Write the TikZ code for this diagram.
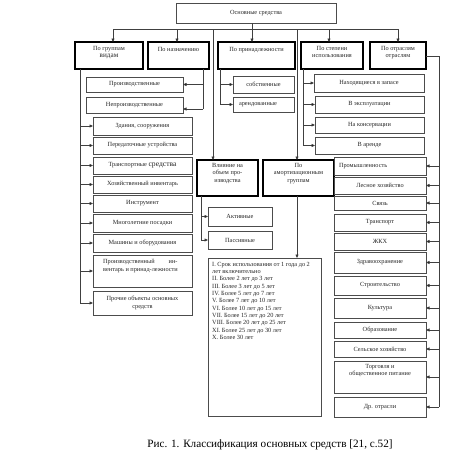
\documentclass[tikz,border=0pt]{standalone}
\usepackage{fontspec}
\setmainfont{Liberation Serif}
\usetikzlibrary{arrows.meta,calc}
\newcommand\bxfont{\fontsize{6.3}{7.6}\selectfont}
\newcommand\bx[7][thinbox]{%
 \pgfmathsetmacro\bxcx{(#3+#5)/2}%
 \pgfmathsetmacro\bxcy{(#4+#6)/2}%
 \pgfmathsetmacro\bxw{#5-#3}%
 \pgfmathsetmacro\bxh{#6-#4}%
 \node[#1,minimum width=\bxw pt,minimum height=\bxh pt] (#2) at (\bxcx,\bxcy) {#7};}
\begin{document}
\begin{tikzpicture}[x=1pt,y=-1pt,
 thinbox/.style={draw=black!70,line width=0.6pt,inner sep=0pt,outer sep=0pt,font=\bxfont,text=black!85,align=center},
 thickbox/.style={draw=black,line width=1.4pt,inner sep=0pt,outer sep=0pt},
 tx/.style={font=\bxfont,text=black!85,align=center,inner sep=0pt},
 ln/.style={draw=black!75,line width=0.6pt},
 arr/.style={ln,-{Triangle[length=3.5pt,width=3pt,fill=black]}},
]
\useasboundingbox[fill=white] (0,0) rectangle (474,458);
% top
\bx{top}{176}{3}{336}{23}{Основные средства}
% level 2
\bx[thickbox]{grp}{75}{42}{143}{69}{}
\bx[thickbox]{naz}{148}{42}{209}{69}{}
\bx[thickbox]{pri}{218}{42}{295}{69}{}
\bx[thickbox]{ste}{301}{42}{363}{69}{}
\bx[thickbox]{otr}{370}{42}{426}{69}{}
\node[tx,anchor=north] (grp-t) at ($(grp.north)+(0,4)$) {По группам\\{\fontsize{7.2}{7.6}\selectfont видам}};
\node[tx,anchor=north] (naz-t) at ($(naz.north)+(0,5)$) {По назначению};
\node[tx,anchor=north] (pri-t) at ($(pri.north)+(0,5)$) {По принадлежности};
\node[tx,anchor=north] (ste-t) at ($(ste.north)+(0,4)$) {По степени\\использования};
\node[tx,anchor=north] (otr-t) at ($(otr.north)+(0,4)$) {По отраслям\\отраслям};
% left column
\bx{prd}{86}{77}{183}{92}{Производственные}
\bx{nep}{86}{97}{183}{113}{Непроизводственные}
\bx{zda}{93}{117}{192}{135}{Здания, сооружения}
\bx{per}{93}{137}{192}{154}{Передаточные устройства}
\bx{trs}{93}{157}{192}{174}{Транспортные {\fontsize{7.6}{8}\selectfont средства}}
\bx{hoz}{93}{176}{192}{193}{Хозяйственный инвентарь}
\bx{ins}{93}{195}{192}{212}{Инструмент}
\bx{mno}{93}{214}{192}{232}{Многолетние посадки}
\bx{mas}{93}{234}{192}{252}{Машины и оборудования}
\bx{pin}{93}{255}{192}{287}{}
\node[tx,anchor=north west,align=left] (pin-t) at ($(pin.north west)+(10,4)$) {Производственный\hspace{14pt}ин-\\вентарь и принад-лежности};
\bx{pro}{93}{291}{192}{315}{Прочие объекты основных\\средств}
% middle
\bx{sob}{233}{76}{294}{93}{собственные}
\bx[thinbox,text width=49pt,align=left]{are}{233}{97}{294}{112}{арендованные}
\bx[thickbox]{vli}{197}{160}{258}{196}{}
\bx[thickbox]{amo}{263}{160}{334}{196}{}
\node[tx,anchor=north] (vli-t) at ($(vli.north)+(0,3)$) {Влияние на\\объем про-\\изводства};
\node[tx,anchor=north] (amo-t) at ($(amo.north)+(0,3)$) {По\\амортизационным\\группам};
\bx{akt}{208}{207}{272}{226}{Активные}
\bx{pas}{208}{231}{272}{249}{Пассивные}
\bx{lst}{208}{258}{321}{416}{}
\node[tx,anchor=north west,align=left,font=\fontsize{6.3}{7.3}\selectfont] (lst-t) at ($(lst.north west)+(4,4)$) {I. Срок использования от 1 года до 2\\лет включительно\\II. Более 2 лет до 3 лет\\III. Более 3 лет до 5 лет\\IV. Более 5 лет до 7 лет\\V. Более 7 лет до 10 лет\\VI. Более 10 лет до 15 лет\\VII. Более 15 лет до 20 лет\\VIII. Более 20 лет до 25 лет\\XI. Более 25 лет до 30 лет\\X. Более 30 лет};
% right: usage
\bx{zap}{314}{74}{424}{92}{Находящиеся в запасе}
\bx{ekp}{315}{96}{424}{113}{В эксплуатации}
\bx{kon}{315}{117}{424}{133}{На консервации}
\bx{ard}{315}{137}{424}{154}{В аренде}
% right: industries
\bx[thinbox,text width=82pt,align=left]{prm}{334}{157}{426}{175}{Промышленность}
\bx{les}{334}{177}{426}{194}{Лесное хозяйство}
\bx{svz}{334}{196}{426}{210}{Связь}
\bx{trn}{334}{214}{426}{231}{Транспорт}
\bx{zkh}{334}{233}{426}{250}{ЖКХ}
\bx{zdr}{334}{252}{426}{273}{Здравоохранение}
\bx{str}{334}{276}{426}{295}{Строительство}
\bx{kul}{334}{298}{426}{318}{Культура}
\bx{obr}{334}{322}{426}{338}{Образование}
\bx{sel}{334}{341}{426}{357}{Сельское хозяйство}
\bx{trg}{334}{361}{426}{393}{}
\node[tx,anchor=north] (trg-t) at ($(trg.north)+(0,3)$) {Торговля и\\общественное питание};
\bx{dro}{334}{397}{426}{417}{Др. отрасли}
% caption
\node[inner sep=0pt,font=\fontsize{11.2}{13}\selectfont] (cap) at (270,445) {Рис. 1. Классификация основных средств [21, с.52]};
% connectors from top
\coordinate (hubL) at (113,29);
\coordinate (hubN) at (177,29);
\coordinate (hubV) at (213,29);
\coordinate (hubP) at (252,29);
\coordinate (hubA) at (297,29);
\coordinate (hubS) at (329,29);
\coordinate (hubR) at (398,29);
\draw[ln] (hubL) -- (hubR);
\draw[arr] (hubP |- top.south) -- (hubP |- pri.north);
\draw[arr] (hubL) -- (hubL |- grp.north);
\draw[arr] (hubN) -- (hubN |- naz.north);
\draw[arr] (hubS) -- (hubS |- ste.north);
\draw[arr] (hubR) -- (hubR |- otr.north);
\draw[arr] (hubV) -- (hubV |- vli.north);
\draw[arr] (hubA) -- (hubA |- amo.north);
% groups
\coordinate (gL) at (80,69);
\draw[ln] (gL) -- (gL |- pro.west);
\foreach \b in {zda,per,trs,hoz,ins,mno,mas,pin,pro} \draw[arr] (gL |- \b.west) -- (\b.west);
% purpose
\coordinate (nR) at (203,69);
\draw[ln] (nR) -- ($(nR |- nep.east)+(0,4)$);
\draw[arr] (nR |- prd.east) -- (prd.east);
\draw[arr] ($(nR |- nep.east)+(0,4)$) -- ($(nep.east)+(0,4)$);
% ownership
\coordinate (pL) at (220,69);
\draw[ln] (pL) -- (pL |- are.west);
\foreach \b in {sob,are} \draw[arr] (pL |- \b.west) -- (\b.west);
% usage
\coordinate (sL) at (303,69);
\draw[ln] (sL) -- (sL |- ard.west);
\foreach \b in {zap,ekp,kon,ard} \draw[arr] (sL |- \b.west) -- (\b.west);
% industries
\coordinate (oR) at (439,56);
\draw[ln] (otr.east |- oR) -- (oR) -- (oR |- dro.east);
\foreach \b in {prm,les,svz,trn,zkh,zdr,str,kul,obr,sel,trg,dro} \draw[arr] (oR |- \b.east) -- (\b.east);
% influence
\coordinate (vL) at (201,196);
\draw[ln] (vL) -- (vL |- pas.west);
\foreach \b in {akt,pas} \draw[arr] (vL |- \b.west) -- (\b.west);
% amortisation
\draw[arr] (hubA |- amo.south) -- (hubA |- lst.north);
\end{tikzpicture}
\end{document}
